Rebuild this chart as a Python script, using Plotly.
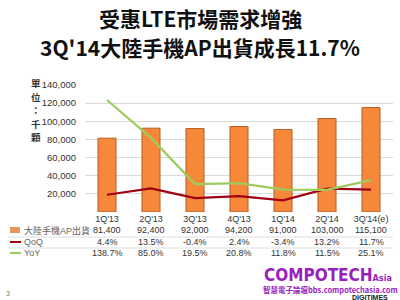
import plotly.graph_objects as go

categories = ["1Q'13", "2Q'13", "3Q'13", "4Q'13", "1Q'14", "2Q'14", "3Q'14(e)"]
shipments = [81400, 92400, 92000, 94200, 91000, 103000, 115100]
shipments_text = ["81,400", "92,400", "92,000", "94,200", "91,000", "103,000", "115,100"]
qoq = [4.4, 13.5, -0.4, 2.4, -3.4, 13.2, 11.7]
yoy = [138.7, 85.0, 19.5, 20.8, 11.8, 11.5, 25.1]
y_ticks = [0, 20000, 40000, 60000, 80000, 100000, 120000, 140000]
y_ticktext = ["", "20,000", "40,000", "60,000", "80,000", "100,000", "120,000", "140,000"]
series_names = ["大陸手機AP出貨", "QoQ", "YoY"]
unit_chars = ["單", "位", "：", "千", "顆"]

W, H = 400, 300
L, R, T, B = 85, 7, 85, 88
pw, ph = W - L - R, H - T - B

def px(x):
    return (x - L) / pw

def py(y):
    return (H - B - y) / ph

ORANGE = "#F7883A"
RED = "#A00012"
GREEN = "#9DCB5E"
PURPLE = "#9A1FC0"
BASE = "Liberation Sans, Arial, Noto Sans CJK TC, sans-serif"
CJK = "Noto Sans CJK TC, sans-serif"

fig = go.Figure()
fig.add_trace(go.Bar(x=categories, y=shipments, name=series_names[0],
                     marker=dict(color=ORANGE, line=dict(color="#B0602A", width=1)),
                     width=0.41))
fig.add_trace(go.Scatter(x=categories, y=qoq, name=series_names[1], yaxis="y2",
                         mode="lines", line=dict(color=RED, width=2.2)))
fig.add_trace(go.Scatter(x=categories, y=yoy, name=series_names[2], yaxis="y2",
                         mode="lines", line=dict(color=GREEN, width=2.2)))

annotations = []
# table rows
row_y = [230, 242, 253]
rows = [shipments_text, [f"{v:.1f}%" for v in qoq], [f"{v:.1f}%" for v in yoy]]
for ry, vals in zip(row_y, rows):
    for c, v in zip(categories, vals):
        annotations.append(dict(x=c, y=py(ry), xref="x", yref="paper", text=v,
                                showarrow=False, font=dict(size=9, color="#333", family=BASE),
                                xanchor="center", yanchor="middle"))
for ry, name in zip(row_y, series_names):
    annotations.append(dict(x=px(22), y=py(ry), xref="paper", yref="paper", text=name,
                            showarrow=False, xanchor="left", yanchor="middle",
                            font=dict(size=9, color="#666", family=BASE + ", " + CJK)))

# titles
annotations.append(dict(x=(200 - L) / pw, y=py(18), xref="paper", yref="paper",
                        text="<b>受惠LTE市場需求增強</b>", showarrow=False,
                        xanchor="center", yanchor="middle",
                        font=dict(size=21, color="#111", family=CJK)))
annotations.append(dict(x=(200 - L) / pw, y=py(47), xref="paper", yref="paper",
                        text="<b>3Q'14大陸手機AP出貨成長11.7%</b>", showarrow=False,
                        xanchor="center", yanchor="middle",
                        font=dict(size=21, color="#111", family=CJK)))
# y axis unit label, stacked vertically
for i, ch in enumerate(unit_chars):
    annotations.append(dict(x=px(36), y=py(83 + i * 13.5), xref="paper", yref="paper",
                            text=f"<b>{ch}</b>", showarrow=False, borderpad=0,
                            xanchor="center", yanchor="middle",
                            font=dict(size=9.5, color="#333", family=CJK)))
# watermark
annotations.append(dict(x=px(262), y=py(275), xref="paper", yref="paper",
                        text="<b>COMPOTECH</b><span style='font-size:9px'><b>Asia</b></span>",
                        showarrow=False, xanchor="left", yanchor="middle",
                        font=dict(size=17, color=PURPLE, family="DejaVu Sans Condensed, DejaVu Sans")))
annotations.append(dict(x=px(261), y=py(289), xref="paper", yref="paper",
                        text="<b>智慧電子論壇bbs.compotechasia.com</b>", showarrow=False,
                        xanchor="left", yanchor="middle",
                        font=dict(size=7.5, color=PURPLE, family=CJK)))
annotations.append(dict(x=px(350), y=py(297), xref="paper", yref="paper",
                        text="<b>DIGITIMES</b>", showarrow=False, xanchor="left", yanchor="middle",
                        font=dict(size=7, color="#222", family=BASE)))
annotations.append(dict(x=px(8), y=py(293), xref="paper", yref="paper", text="3",
                        showarrow=False, xanchor="center", yanchor="middle",
                        font=dict(size=7, color="#777", family=BASE)))

shapes = []
# legend keys in table
shapes.append(dict(type="rect", xref="paper", yref="paper", x0=px(10), x1=px(20),
                   y0=py(233), y1=py(227), fillcolor="#E8955A", line=dict(width=0)))
shapes.append(dict(type="line", xref="paper", yref="paper", x0=px(10), x1=px(21),
                   y0=py(242), y1=py(242), line=dict(color=RED, width=2)))
shapes.append(dict(type="line", xref="paper", yref="paper", x0=px(10), x1=px(21),
                   y0=py(253), y1=py(253), line=dict(color=GREEN, width=2)))
for ly in [237, 248]:
    shapes.append(dict(type="line", xref="paper", yref="paper", x0=px(8), x1=px(393),
                       y0=py(ly), y1=py(ly), line=dict(color="#DDDDDD", width=1)))

fig.update_layout(
    width=W, height=H, margin=dict(l=L, r=R, t=T, b=B),
    paper_bgcolor="white", plot_bgcolor="white", showlegend=False,
    font=dict(family=BASE, size=9, color="#333"),
    xaxis=dict(showgrid=False, showline=False, ticks="", tickfont=dict(size=9, color="#333")),
    yaxis=dict(range=[0, 140000], tickvals=y_ticks, ticktext=y_ticktext,
               showgrid=True, gridcolor="#D9D9D9", gridwidth=1, zeroline=False,
               showline=False, ticks="", ticklabelstandoff=8,
               tickfont=dict(size=9.5, color="#333")),
    yaxis2=dict(range=[-20, 160], overlaying="y", visible=False),
    annotations=annotations, shapes=shapes,
)
fig.write_html("out.html")
